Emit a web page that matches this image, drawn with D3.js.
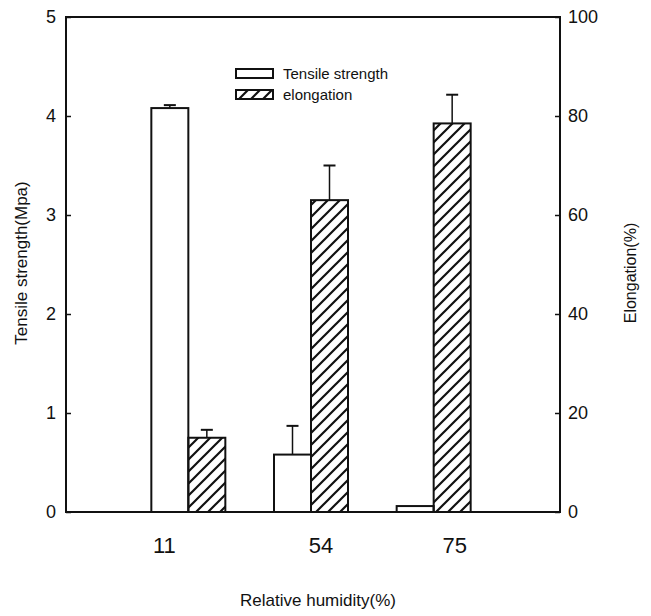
<!DOCTYPE html>
<html>
<head>
<meta charset="utf-8">
<script src="https://cdn.jsdelivr.net/npm/d3@7"></script>
<style>
  body { margin: 0; background: #fff; }
  text { font-family: "Liberation Sans", Arial, sans-serif; fill: #111; }
</style>
</head>
<body>
<svg width="651" height="616"></svg>
<script>
// data
var humidity = ["11", "54", "75"];
var tensile = [4.08, 0.58, 0.06];
var tensileErr = [0.03, 0.29, 0];
var elongation = [15, 63, 78.5];
var elongationErr = [1.6, 7, 5.8];
var leftTicks = [0, 1, 2, 3, 4, 5];
var rightTicks = [0, 20, 40, 60, 80, 100];
var labelShift = [-24, 10, 21]; // category labels sit off-centre in the original

var svg = d3.select("svg"),
    plot = {left: 66, right: 560, top: 17, bottom: 512};

var x = d3.scaleBand().domain(humidity).range([127, 495]),
    yL = d3.scaleLinear().domain([0, 5]).range([plot.bottom, plot.top]),
    yR = d3.scaleLinear().domain([0, 100]).range([plot.bottom, plot.top]);
var bw = 37;

var defs = svg.append("defs");
defs.append("pattern")
    .attr("id", "hatch")
    .attr("patternUnits", "userSpaceOnUse")
    .attr("width", 12).attr("height", 12)
  .append("path")
    .attr("d", "M-3,3 L3,-3 M0,12 L12,0 M9,15 L15,9")
    .style("stroke", "#111")
    .style("stroke-width", 2.2);

// tensile bars
svg.selectAll(".ts")
  .data(humidity)
  .enter().append("rect")
    .attr("class", "ts")
    .attr("x", function(d) { return x(d) + x.bandwidth() / 2 - bw; })
    .attr("y", function(d, i) { return yL(tensile[i]); })
    .attr("width", bw)
    .attr("height", function(d, i) { return yL(0) - yL(tensile[i]); })
    .style("fill", "#fff")
    .style("stroke", "#111")
    .style("stroke-width", 2);

// elongation bars
svg.selectAll(".el")
  .data(humidity)
  .enter().append("rect")
    .attr("class", "el")
    .attr("x", function(d) { return x(d) + x.bandwidth() / 2; })
    .attr("y", function(d, i) { return yR(elongation[i]); })
    .attr("width", bw)
    .attr("height", function(d, i) { return yR(0) - yR(elongation[i]); })
    .style("fill", "url(#hatch)")
    .style("stroke", "#111")
    .style("stroke-width", 2);

// error bars (upper only)
function errBars(cls, vals, errs, y, dx) {
  var g = svg.selectAll("." + cls)
    .data(humidity.filter(function(d, i) { return errs[i] > 0; }))
    .enter().append("g")
      .attr("class", cls)
      .style("stroke", "#111")
      .style("stroke-width", 1.5);
  g.append("line")
      .attr("x1", function(d) { return x(d) + x.bandwidth() / 2 + dx; })
      .attr("x2", function(d) { return x(d) + x.bandwidth() / 2 + dx; })
      .attr("y1", function(d) { var i = humidity.indexOf(d); return y(vals[i]); })
      .attr("y2", function(d) { var i = humidity.indexOf(d); return y(vals[i] + errs[i]); });
  g.append("line")
      .attr("x1", function(d) { return x(d) + x.bandwidth() / 2 + dx - 6; })
      .attr("x2", function(d) { return x(d) + x.bandwidth() / 2 + dx + 6; })
      .attr("y1", function(d) { var i = humidity.indexOf(d); return y(vals[i] + errs[i]); })
      .attr("y2", function(d) { var i = humidity.indexOf(d); return y(vals[i] + errs[i]); })
      .style("stroke-width", 2);
}
errBars("tse", tensile, tensileErr, yL, -bw / 2);
errBars("ele", elongation, elongationErr, yR, bw / 2);

// frame
svg.append("rect")
    .attr("x", plot.left).attr("y", plot.top)
    .attr("width", plot.right - plot.left).attr("height", plot.bottom - plot.top)
    .style("fill", "none")
    .style("stroke", "#111")
    .style("stroke-width", 2);

// left axis
var gl = svg.append("g")
    .attr("transform", "translate(" + plot.left + ",0)")
    .call(d3.axisRight(yL).tickValues(leftTicks).tickSize(5).tickFormat(d3.format("d")));
gl.select(".domain").remove();
gl.selectAll("line").style("stroke", "#111").style("stroke-width", 1.5);
gl.selectAll("text")
    .attr("x", -10)
    .style("text-anchor", "end")
    .style("font-size", "18px")
    .style("font-family", "Liberation Sans, Arial, sans-serif")
    .style("fill", "#111");

// right axis
var gr = svg.append("g")
    .attr("transform", "translate(" + plot.right + ",0)")
    .call(d3.axisLeft(yR).tickValues(rightTicks).tickSize(5).tickFormat(d3.format("d")));
gr.select(".domain").remove();
gr.selectAll("line").style("stroke", "#111").style("stroke-width", 1.5);
gr.selectAll("text")
    .attr("x", 8)
    .style("text-anchor", "start")
    .style("font-size", "18px")
    .style("font-family", "Liberation Sans, Arial, sans-serif")
    .style("fill", "#111");

// category labels
svg.selectAll(".cat")
  .data(humidity)
  .enter().append("text")
    .attr("class", "cat")
    .attr("x", function(d, i) { return x(d) + x.bandwidth() / 2 + labelShift[i]; })
    .attr("y", 553)
    .attr("text-anchor", "middle")
    .style("font-size", "22px")
    .text(function(d) { return d; });

// axis titles
svg.append("text")
    .attr("x", 318).attr("y", 606)
    .attr("text-anchor", "middle")
    .style("font-size", "17px")
    .text("Relative humidity(%)");

svg.append("text")
    .attr("transform", "translate(27,263) rotate(-90)")
    .attr("text-anchor", "middle")
    .style("font-size", "17px")
    .text("Tensile strength(Mpa)");

svg.append("text")
    .attr("transform", "translate(636,273) rotate(-90)")
    .attr("text-anchor", "middle")
    .style("font-size", "16px")
    .text("Elongation(%)");

// legend
var legend = [
  {label: "Tensile strength", fill: "#fff"},
  {label: "elongation", fill: "url(#hatch)"}
];
var lg = svg.selectAll(".lg")
  .data(legend)
  .enter().append("g")
    .attr("class", "lg")
    .attr("transform", function(d, i) { return "translate(236," + (69 + i * 21) + ")"; });
lg.append("rect")
    .attr("width", 37).attr("height", 9)
    .style("fill", function(d) { return d.fill; })
    .style("stroke", "#111")
    .style("stroke-width", 2);
lg.append("text")
    .attr("x", 47).attr("y", 10)
    .style("font-size", "15px")
    .text(function(d) { return d.label; });
</script>
</body>
</html>
